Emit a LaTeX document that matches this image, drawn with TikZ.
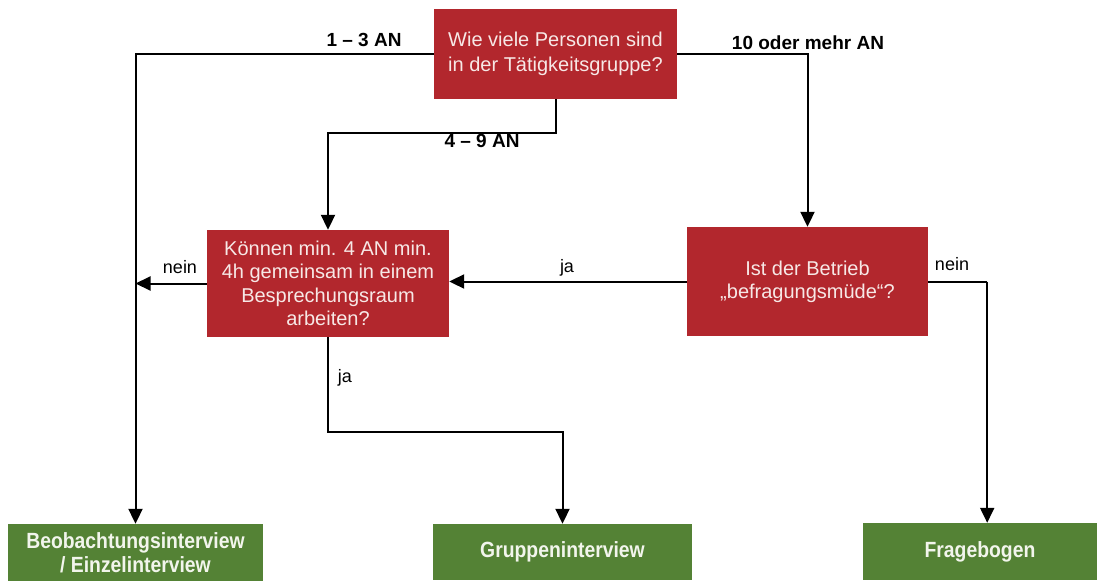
\documentclass[tikz,border=0pt]{standalone}
\usepackage{fontspec}
\setmainfont{Liberation Sans}
\usetikzlibrary{arrows.meta}
\definecolor{qred}{HTML}{B2272D}
\definecolor{qtext}{HTML}{F7E8E6}
\definecolor{rgreen}{HTML}{548235}
\definecolor{rtext}{HTML}{F2F5EC}
\tikzset{
  qbox/.style={fill=qred, draw=none, text=qtext, align=center, inner sep=0pt,
    font=\fontsize{20}{25}\selectfont},
  rbox/.style={fill=rgreen, draw=none, text=rtext, align=center, inner sep=0pt,
    font=\fontsize{22}{22}\selectfont\bfseries},
  arr/.style={line width=2pt, -{Triangle[length=15pt,width=14pt]}},
  ln/.style={line width=2pt},
  blab/.style={font=\fontsize{19}{21}\selectfont\bfseries, inner sep=0pt},
  lab/.style={font=\fontsize{18}{20}\selectfont, inner sep=0pt}
}
\begin{document}
\begin{tikzpicture}[x=1pt,y=-1pt]
\useasboundingbox (0,0) rectangle (1098,581);
\node[qbox, minimum width=243pt, minimum height=90pt] (q1) at (555.5,54)
  {Wie viele Personen sind\\in der Tätigkeitsgruppe?};
\node[qbox, minimum width=242pt, minimum height=107pt, font=\fontsize{20}{23.5}\selectfont] (q2) at (328,283.5)
  {Können min. 4 AN min.\\4h gemeinsam in einem\\Besprechungsraum\\arbeiten?};
\node[qbox, minimum width=241pt, minimum height=109pt, font=\fontsize{20}{23}\selectfont] (q3) at (807.5,281.5)
  {Ist der Betrieb\\„befragungsmüde“?};
\node[rbox, minimum width=255pt, minimum height=57pt] (r1) at (135.5,552.5)
  {\scalebox{0.88}[1]{\shortstack{Beobachtungsinterview\\/ Einzelinterview}}};
\node[rbox, minimum width=259pt, minimum height=56pt] (r2) at (562.5,552)
  {\scalebox{0.88}[1]{Gruppeninterview}};
\node[rbox, minimum width=234pt, minimum height=57pt] (r3) at (980,551.5)
  {\scalebox{0.88}[1]{Fragebogen}};

\draw[arr] (q1.west) -| (r1.north);
\draw[arr] (q1.south) -- ++(0,34) coordinate (b1) -| (q2.north);
\draw[arr] (q1.east) -| (q3.north);
\draw[arr] (q3.west) -- (q3.west -| q2.east);
\draw[arr] (q2.west) -- (q2.west -| r1.north);
\draw[arr] (q2.south) -- ++(0,95) coordinate (b2) -| (r2.north);
\draw[ln] (q3.east) -- ++(59,0) coordinate (b3);
\draw[arr] (b3) -- (b3 |- r3.north);

\node[blab] (l13) at (364,40) {1 – 3 AN};
\node[blab] (l10) at (808,43) {10 oder mehr AN};
\node[blab] (l49) at (482,141) {4 – 9 AN};
\node[lab] (n1) at (180,267) {nein};
\node[lab] (j1) at (567,268) {ja};
\node[lab] (j2) at (345,378) {ja};
\node[lab] (n2) at (952,264) {nein};
\end{tikzpicture}
\end{document}
